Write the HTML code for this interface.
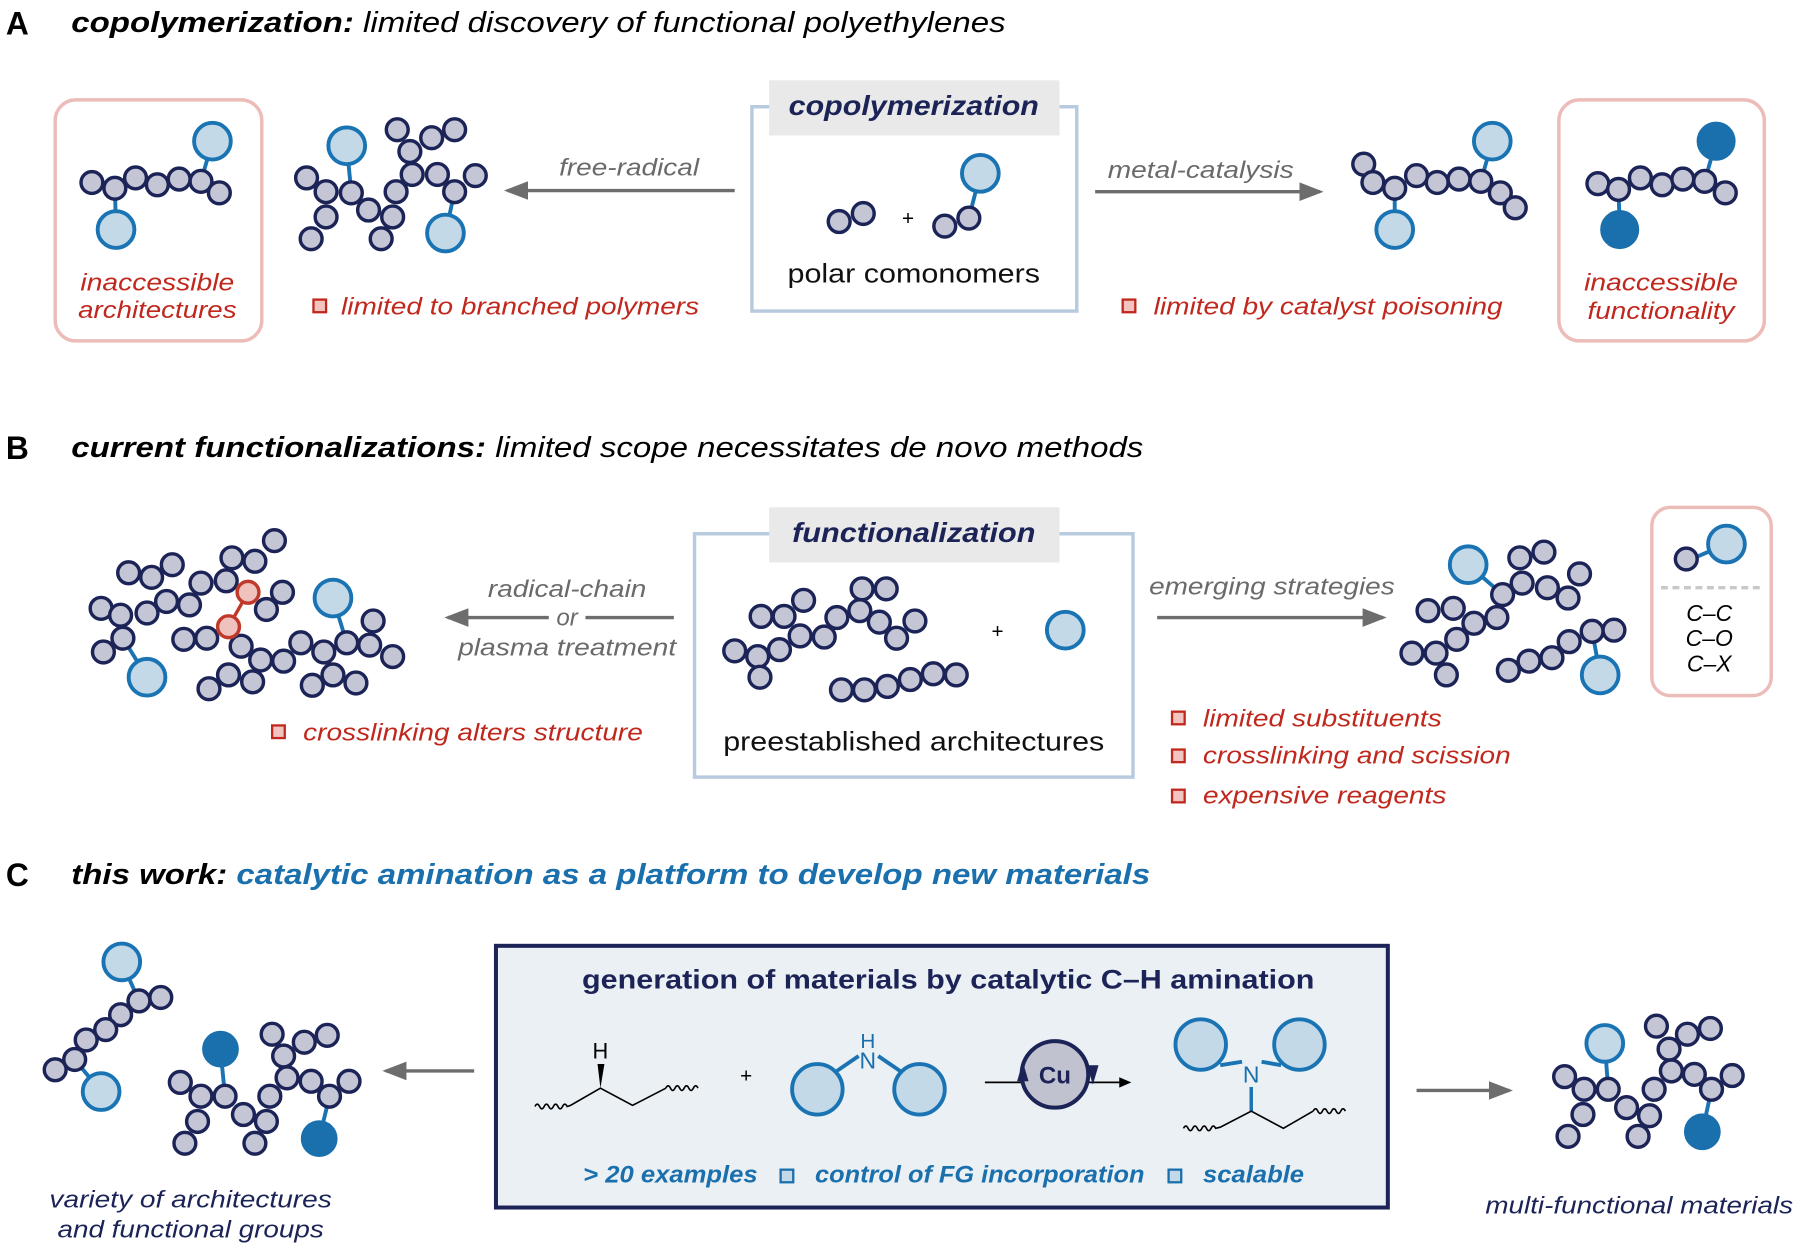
<!DOCTYPE html>
<html><head><meta charset="utf-8"><style>
html,body{margin:0;padding:0;background:#fff}
svg{display:block}
text{font-family:"Liberation Sans",sans-serif}
.n{fill:#c4c6d6;stroke:#1c2457;stroke-width:3}
.b{fill:#c3d9e8;stroke:#1a74b3;stroke-width:3.4}
.f{fill:#1a6fad;stroke:#1a6fad;stroke-width:2}
.r{fill:#f0c2bd;stroke:#c0392b;stroke-width:3}
.bl{stroke:#1a74b3;stroke-width:3.4}
.red{fill:#c0281e;font-style:italic}
.gr{fill:#6a6a6a;font-style:italic}
.nav{fill:#1c2457}
.sq{fill:#f2c4c0;stroke:#c0281e;stroke-width:2}
</style></head><body>
<svg width="1800" height="1250" viewBox="0 0 1568 1089" xmlns="http://www.w3.org/2000/svg">
<defs>
<marker id="ah" markerWidth="8" markerHeight="8" refX="6" refY="4" orient="auto" markerUnits="strokeWidth"><path d="M0,1.3 L7,4 L0,6.7 Z" fill="#6d6d6d"/></marker>
<marker id="ak" markerWidth="8" markerHeight="8" refX="6" refY="4" orient="auto" markerUnits="strokeWidth"><path d="M0,1 L7,4 L0,7 Z" fill="#000"/></marker>
</defs>

<!-- ===== A ===== -->
<text x="5" y="30" font-size="28" font-weight="bold" textLength="20" lengthAdjust="spacingAndGlyphs">A</text>
<text x="62" y="28" font-size="25" font-style="italic" textLength="814" lengthAdjust="spacingAndGlyphs"><tspan font-weight="bold">copolymerization:</tspan> limited discovery of functional polyethylenes</text>

<rect x="48" y="87" width="180" height="210" rx="18" fill="none" stroke="#ecbcb8" stroke-width="3"/>
<text class="red" x="137" y="253" font-size="21" text-anchor="middle" textLength="134" lengthAdjust="spacingAndGlyphs">inaccessible</text>
<text class="red" x="137" y="277" font-size="21" text-anchor="middle" textLength="138" lengthAdjust="spacingAndGlyphs">architectures</text>
<line class="bl" x1="175" y1="158" x2="185" y2="123"/><line class="bl" x1="100" y1="164" x2="101" y2="200"/>
<g class="n"><circle cx="80" cy="159" r="9.5"/><circle cx="100" cy="164" r="9.5"/><circle cx="118" cy="155" r="9.5"/><circle cx="137" cy="161" r="9.5"/><circle cx="156" cy="156" r="9.5"/><circle cx="175" cy="158" r="9.5"/><circle cx="191" cy="168" r="9.5"/></g>
<circle class="b" cx="185" cy="123" r="16"/><circle class="b" cx="101" cy="200" r="16"/>

<line class="bl" x1="306" y1="168" x2="302" y2="127"/><line class="bl" x1="396" y1="167" x2="388" y2="203"/>
<g class="n"><circle cx="267" cy="155" r="9.5"/><circle cx="284" cy="167" r="9.5"/><circle cx="306" cy="168" r="9.5"/><circle cx="321" cy="183" r="9.5"/><circle cx="342" cy="189" r="9.5"/><circle cx="345" cy="167" r="9.5"/><circle cx="359" cy="152" r="9.5"/><circle cx="381" cy="152" r="9.5"/><circle cx="396" cy="167" r="9.5"/><circle cx="414" cy="153" r="9.5"/><circle cx="357" cy="132" r="9.5"/><circle cx="376" cy="120" r="9.5"/><circle cx="396" cy="113" r="9.5"/><circle cx="346" cy="113" r="9.5"/><circle cx="284" cy="189" r="9.5"/><circle cx="271" cy="208" r="9.5"/><circle cx="332" cy="208" r="9.5"/></g>
<circle class="b" cx="302" cy="127" r="16"/><circle class="b" cx="388" cy="203" r="16"/>

<line x1="640" y1="166" x2="442" y2="166" stroke="#6d6d6d" stroke-width="3" marker-end="url(#ah)"/>
<text class="gr" x="548" y="153" font-size="21" text-anchor="middle" textLength="122" lengthAdjust="spacingAndGlyphs">free-radical</text>
<rect x="273" y="261" width="11" height="11" class="sq"/>
<text class="red" x="297" y="274" font-size="21" textLength="312" lengthAdjust="spacingAndGlyphs">limited to branched polymers</text>

<rect x="655" y="93" width="283" height="178" fill="none" stroke="#b7cade" stroke-width="3"/>
<rect x="670" y="70" width="253" height="48" fill="#e9e9e9"/>
<text class="nav" x="796" y="100" font-size="24" font-weight="bold" font-style="italic" text-anchor="middle" textLength="218" lengthAdjust="spacingAndGlyphs">copolymerization</text>
<g class="n"><circle cx="731" cy="193" r="9.5"/><circle cx="752" cy="186" r="9.5"/></g>
<text x="791" y="196" font-size="18" text-anchor="middle">+</text>
<line class="bl" x1="844" y1="190" x2="854" y2="151"/>
<g class="n"><circle cx="823" cy="197" r="9.5"/><circle cx="844" cy="190" r="9.5"/></g>
<circle class="b" cx="854" cy="151" r="16"/>
<text x="796" y="246" font-size="23" text-anchor="middle" fill="#111" textLength="220" lengthAdjust="spacingAndGlyphs">polar comonomers</text>

<line x1="954" y1="167" x2="1150" y2="167" stroke="#6d6d6d" stroke-width="3" marker-end="url(#ah)"/>
<text class="gr" x="1046" y="155" font-size="21" text-anchor="middle" textLength="162" lengthAdjust="spacingAndGlyphs">metal-catalysis</text>
<rect x="978" y="261" width="11" height="11" class="sq"/>
<text class="red" x="1005" y="274" font-size="21" textLength="304" lengthAdjust="spacingAndGlyphs">limited by catalyst poisoning</text>

<line class="bl" x1="1290" y1="158" x2="1300" y2="123"/><line class="bl" x1="1215" y1="164" x2="1215" y2="200"/>
<g class="n"><circle cx="1188" cy="143" r="9.5"/><circle cx="1196" cy="159" r="9.5"/><circle cx="1215" cy="164" r="9.5"/><circle cx="1234" cy="153" r="9.5"/><circle cx="1252" cy="159" r="9.5"/><circle cx="1271" cy="156" r="9.5"/><circle cx="1290" cy="158" r="9.5"/><circle cx="1307" cy="168" r="9.5"/><circle cx="1320" cy="181" r="9.5"/></g>
<circle class="b" cx="1300" cy="123" r="16"/><circle class="b" cx="1215" cy="200" r="16"/>

<rect x="1358" y="87" width="179" height="210" rx="18" fill="none" stroke="#ecbcb8" stroke-width="3"/>
<text class="red" x="1447" y="253" font-size="21" text-anchor="middle" textLength="134" lengthAdjust="spacingAndGlyphs">inaccessible</text>
<text class="red" x="1447" y="278" font-size="21" text-anchor="middle" textLength="128" lengthAdjust="spacingAndGlyphs">functionality</text>
<line class="bl" x1="1485" y1="158" x2="1495" y2="123"/><line class="bl" x1="1410" y1="165" x2="1411" y2="200"/>
<g class="n"><circle cx="1392" cy="160" r="9.5"/><circle cx="1410" cy="165" r="9.5"/><circle cx="1429" cy="155" r="9.5"/><circle cx="1448" cy="161" r="9.5"/><circle cx="1466" cy="156" r="9.5"/><circle cx="1485" cy="158" r="9.5"/><circle cx="1503" cy="168" r="9.5"/></g>
<circle class="f" cx="1495" cy="123" r="16"/><circle class="f" cx="1411" cy="200" r="16"/>

<!-- ===== B ===== -->
<text x="5" y="400" font-size="28" font-weight="bold" textLength="20" lengthAdjust="spacingAndGlyphs">B</text>
<text x="62" y="398" font-size="25" font-style="italic" textLength="934" lengthAdjust="spacingAndGlyphs"><tspan font-weight="bold">current functionalizations:</tspan> limited scope necessitates de novo methods</text>

<line class="bl" x1="107" y1="556" x2="128" y2="590"/><line class="bl" x1="302" y1="560" x2="290" y2="521"/>
<line x1="216" y1="516" x2="199" y2="546" stroke="#c0392b" stroke-width="3"/>
<g class="n">
<circle cx="88" cy="530" r="9.5"/><circle cx="105" cy="536" r="9.5"/><circle cx="128" cy="534" r="9.5"/><circle cx="145" cy="524" r="9.5"/><circle cx="165" cy="527" r="9.5"/><circle cx="112" cy="499" r="9.5"/><circle cx="132" cy="503" r="9.5"/><circle cx="150" cy="492" r="9.5"/><circle cx="107" cy="556" r="9.5"/><circle cx="90" cy="568" r="9.5"/><circle cx="175" cy="508" r="9.5"/><circle cx="197" cy="506" r="9.5"/><circle cx="202" cy="486" r="9.5"/><circle cx="222" cy="489" r="9.5"/><circle cx="239" cy="471" r="9.5"/><circle cx="160" cy="557" r="9.5"/><circle cx="180" cy="556" r="9.5"/><circle cx="210" cy="563" r="9.5"/><circle cx="227" cy="575" r="9.5"/><circle cx="247" cy="576" r="9.5"/><circle cx="262" cy="560" r="9.5"/><circle cx="282" cy="568" r="9.5"/><circle cx="302" cy="560" r="9.5"/><circle cx="322" cy="562" r="9.5"/><circle cx="325" cy="541" r="9.5"/><circle cx="342" cy="572" r="9.5"/><circle cx="182" cy="600" r="9.5"/><circle cx="199" cy="588" r="9.5"/><circle cx="220" cy="594" r="9.5"/><circle cx="272" cy="597" r="9.5"/><circle cx="290" cy="588" r="9.5"/><circle cx="310" cy="595" r="9.5"/><circle cx="232" cy="531" r="9.5"/><circle cx="246" cy="516" r="9.5"/></g>
<circle class="r" cx="216" cy="516" r="9.5"/><circle class="r" cx="199" cy="546" r="9.5"/>
<circle class="b" cx="128" cy="590" r="16"/><circle class="b" cx="290" cy="521" r="16"/>

<line x1="478" y1="538" x2="390" y2="538" stroke="#6d6d6d" stroke-width="3" marker-end="url(#ah)"/>
<line x1="510" y1="538" x2="587" y2="538" stroke="#6d6d6d" stroke-width="3"/>
<text class="gr" x="494" y="520" font-size="21" text-anchor="middle" textLength="138" lengthAdjust="spacingAndGlyphs">radical-chain</text>
<text class="gr" x="494" y="545" font-size="21" text-anchor="middle">or</text>
<text class="gr" x="494" y="571" font-size="21" text-anchor="middle" textLength="190" lengthAdjust="spacingAndGlyphs">plasma treatment</text>
<rect x="237" y="632" width="11" height="11" class="sq"/>
<text class="red" x="264" y="645" font-size="21" textLength="296" lengthAdjust="spacingAndGlyphs">crosslinking alters structure</text>

<rect x="605" y="465" width="382" height="212" fill="none" stroke="#b7cade" stroke-width="3"/>
<rect x="670" y="442" width="253" height="48" fill="#e9e9e9"/>
<text class="nav" x="796" y="472" font-size="24" font-weight="bold" font-style="italic" text-anchor="middle" textLength="212" lengthAdjust="spacingAndGlyphs">functionalization</text>
<g class="n">
<circle cx="640" cy="567" r="9.5"/><circle cx="660" cy="572" r="9.5"/><circle cx="662" cy="590" r="9.5"/><circle cx="679" cy="566" r="9.5"/><circle cx="697" cy="554" r="9.5"/><circle cx="718" cy="555" r="9.5"/><circle cx="729" cy="538" r="9.5"/><circle cx="749" cy="532" r="9.5"/><circle cx="751" cy="513" r="9.5"/><circle cx="772" cy="513" r="9.5"/><circle cx="766" cy="542" r="9.5"/><circle cx="781" cy="556" r="9.5"/><circle cx="797" cy="541" r="9.5"/><circle cx="663" cy="537" r="9.5"/><circle cx="683" cy="537" r="9.5"/><circle cx="700" cy="523" r="9.5"/>
<circle cx="733" cy="601" r="9.5"/><circle cx="753" cy="601" r="9.5"/><circle cx="773" cy="598" r="9.5"/><circle cx="793" cy="592" r="9.5"/><circle cx="813" cy="587" r="9.5"/><circle cx="833" cy="588" r="9.5"/></g>
<text x="869" y="556" font-size="18" text-anchor="middle">+</text>
<circle class="b" cx="928" cy="549" r="16"/>
<text x="796" y="654" font-size="23" text-anchor="middle" fill="#111" textLength="332" lengthAdjust="spacingAndGlyphs">preestablished architectures</text>

<line x1="1008" y1="538" x2="1205" y2="538" stroke="#6d6d6d" stroke-width="3" marker-end="url(#ah)"/>
<text class="gr" x="1108" y="518" font-size="21" text-anchor="middle" textLength="214" lengthAdjust="spacingAndGlyphs">emerging strategies</text>

<line class="bl" x1="1309" y1="518" x2="1279" y2="492"/><line class="bl" x1="1387" y1="550" x2="1394" y2="588"/>
<g class="n">
<circle cx="1309" cy="518" r="9.5"/><circle cx="1326" cy="508" r="9.5"/><circle cx="1324" cy="486" r="9.5"/><circle cx="1345" cy="481" r="9.5"/><circle cx="1348" cy="512" r="9.5"/><circle cx="1366" cy="521" r="9.5"/><circle cx="1376" cy="500" r="9.5"/><circle cx="1304" cy="538" r="9.5"/><circle cx="1284" cy="543" r="9.5"/><circle cx="1266" cy="530" r="9.5"/><circle cx="1244" cy="532" r="9.5"/><circle cx="1269" cy="557" r="9.5"/><circle cx="1251" cy="569" r="9.5"/><circle cx="1230" cy="569" r="9.5"/><circle cx="1260" cy="588" r="9.5"/><circle cx="1314" cy="584" r="9.5"/><circle cx="1332" cy="576" r="9.5"/><circle cx="1352" cy="573" r="9.5"/><circle cx="1367" cy="559" r="9.5"/><circle cx="1387" cy="550" r="9.5"/><circle cx="1406" cy="549" r="9.5"/></g>
<circle class="b" cx="1279" cy="492" r="16"/><circle class="b" cx="1394" cy="588" r="16"/>

<rect x="1439" y="442" width="104" height="164" rx="16" fill="none" stroke="#ecbcb8" stroke-width="3"/>
<line class="bl" x1="1469" y1="489" x2="1504" y2="474"/>
<circle class="n" cx="1469" cy="487" r="9.5"/><circle class="b" cx="1504" cy="474" r="16"/>
<line x1="1447" y1="512" x2="1536" y2="512" stroke="#c8c8c8" stroke-width="3" stroke-dasharray="6,4"/>
<text x="1489" y="541" font-size="20" font-style="italic" text-anchor="middle">C–C</text>
<text x="1489" y="563" font-size="20" font-style="italic" text-anchor="middle">C–O</text>
<text x="1489" y="585" font-size="20" font-style="italic" text-anchor="middle">C–X</text>

<rect x="1021" y="620" width="11" height="11" class="sq"/>
<text class="red" x="1048" y="633" font-size="21" textLength="208" lengthAdjust="spacingAndGlyphs">limited substituents</text>
<rect x="1021" y="653" width="11" height="11" class="sq"/>
<text class="red" x="1048" y="665" font-size="21" textLength="268" lengthAdjust="spacingAndGlyphs">crosslinking and scission</text>
<rect x="1021" y="688" width="11" height="11" class="sq"/>
<text class="red" x="1048" y="700" font-size="21" textLength="212" lengthAdjust="spacingAndGlyphs">expensive reagents</text>

<!-- ===== C ===== -->
<text x="5" y="772" font-size="28" font-weight="bold" textLength="20" lengthAdjust="spacingAndGlyphs">C</text>
<text x="62" y="770" font-size="25" font-style="italic" font-weight="bold" textLength="940" lengthAdjust="spacingAndGlyphs">this work: <tspan fill="#1a6fad">catalytic amination as a platform to develop new materials</tspan></text>

<line class="bl" x1="121" y1="872" x2="106" y2="838"/><line class="bl" x1="65" y1="923" x2="88" y2="951"/>
<g class="n"><circle cx="121" cy="872" r="9.5"/><circle cx="140" cy="869" r="9.5"/><circle cx="105" cy="884" r="9.5"/><circle cx="92" cy="897" r="9.5"/><circle cx="75" cy="906" r="9.5"/><circle cx="65" cy="923" r="9.5"/><circle cx="48" cy="932" r="9.5"/></g>
<circle class="b" cx="106" cy="838" r="16"/><circle class="b" cx="88" cy="951" r="16"/>
<line class="bl" x1="196" y1="955" x2="192" y2="915"/><line class="bl" x1="287" y1="955" x2="278" y2="992"/>
<g class="n"><circle cx="157" cy="943" r="9.5"/><circle cx="175" cy="955" r="9.5"/><circle cx="196" cy="955" r="9.5"/><circle cx="172" cy="977" r="9.5"/><circle cx="161" cy="996" r="9.5"/><circle cx="212" cy="971" r="9.5"/><circle cx="232" cy="977" r="9.5"/><circle cx="222" cy="996" r="9.5"/><circle cx="235" cy="955" r="9.5"/><circle cx="250" cy="939" r="9.5"/><circle cx="247" cy="920" r="9.5"/><circle cx="237" cy="901" r="9.5"/><circle cx="265" cy="908" r="9.5"/><circle cx="285" cy="902" r="9.5"/><circle cx="271" cy="942" r="9.5"/><circle cx="287" cy="955" r="9.5"/><circle cx="304" cy="942" r="9.5"/></g>
<circle class="f" cx="192" cy="914" r="15"/><circle class="f" cx="278" cy="992" r="15"/>
<text class="nav" x="166" y="1052" font-size="21" font-style="italic" text-anchor="middle" textLength="246" lengthAdjust="spacingAndGlyphs">variety of architectures</text>
<text class="nav" x="166" y="1078" font-size="21" font-style="italic" text-anchor="middle" textLength="232" lengthAdjust="spacingAndGlyphs">and functional groups</text>

<line x1="413" y1="933" x2="336" y2="933" stroke="#6d6d6d" stroke-width="3" marker-end="url(#ah)"/>

<rect x="432" y="824" width="777" height="228" fill="#ebf0f5" stroke="#1c2457" stroke-width="3.5"/>
<text class="nav" x="826" y="861" font-size="23" font-weight="bold" text-anchor="middle" textLength="638" lengthAdjust="spacingAndGlyphs">generation of materials by catalytic C–H amination</text>
<g fill="none" stroke="#000" stroke-width="1.4">
<path d="M466,964 q2,-4 4,0 q2,4 4,0 q2,-4 4,0 q2,4 4,0 q2,-4 4,0 q2,4 4,0 q2,-4 4,0 L497,963 L523,948 L551,963 L580,948"/>
<path d="M580,948 q2,-4 4,0 q2,4 4,0 q2,-4 4,0 q2,4 4,0 q2,-4 4,0 q2,4 4,0 q2,-4 4,0"/>
</g>
<path d="M523,948 L520.5,927 L526.5,927 Z" fill="#000"/>
<text x="523" y="922" font-size="19" text-anchor="middle">H</text>
<text x="650" y="943" font-size="18" text-anchor="middle">+</text>
<line class="bl" x1="729" y1="933" x2="748" y2="920"/><line class="bl" x1="765" y1="920" x2="784" y2="933"/>
<circle class="b" cx="712" cy="949" r="22"/><circle class="b" cx="801" cy="949" r="22"/>
<text x="756" y="913" font-size="18" text-anchor="middle" fill="#1a6fad">H</text>
<text x="756" y="931" font-size="20" text-anchor="middle" fill="#1a6fad">N</text>
<line x1="858" y1="943" x2="984" y2="943" stroke="#000" stroke-width="1.5" marker-end="url(#ak)"/>
<circle cx="919" cy="936" r="29" fill="#c0c2cf" stroke="#1c2457" stroke-width="3.5"/>
<path d="M886,942 L891,925 L896,942 Z" fill="#1c2457"/><path d="M947,928 L952,945 L957,928 Z" fill="#1c2457"/>
<text class="nav" x="919" y="944" font-size="21" font-weight="bold" text-anchor="middle">Cu</text>
<line class="bl" x1="1063" y1="928" x2="1082" y2="925"/><line class="bl" x1="1116" y1="928" x2="1099" y2="925"/>
<circle class="b" cx="1046" cy="910" r="22"/><circle class="b" cx="1132" cy="910" r="22"/>
<text x="1090" y="943" font-size="20" text-anchor="middle" fill="#1a6fad">N</text>
<line x1="1090" y1="947" x2="1090" y2="968" stroke="#1a74b3" stroke-width="3"/>
<g fill="none" stroke="#000" stroke-width="1.4">
<path d="M1031,983 q2,-4 4,0 q2,4 4,0 q2,-4 4,0 q2,4 4,0 q2,-4 4,0 q2,4 4,0 q2,-4 4,0 L1063,982 L1090,968 L1118,983 L1144,968"/>
<path d="M1144,968 q2,-4 4,0 q2,4 4,0 q2,-4 4,0 q2,4 4,0 q2,-4 4,0 q2,4 4,0 q2,-4 4,0"/>
</g>
<g fill="#1a6fad" font-weight="bold" font-style="italic" font-size="21">
<text x="508" y="1030" textLength="152" lengthAdjust="spacingAndGlyphs">&gt; 20 examples</text>
<text x="710" y="1030" textLength="287" lengthAdjust="spacingAndGlyphs">control of FG incorporation</text>
<text x="1048" y="1030" textLength="88" lengthAdjust="spacingAndGlyphs">scalable</text>
</g>
<rect x="680" y="1019" width="11" height="11" fill="#c3d9e8" stroke="#1a6fad" stroke-width="2"/>
<rect x="1018" y="1019" width="11" height="11" fill="#c3d9e8" stroke="#1a6fad" stroke-width="2"/>

<line x1="1234" y1="950" x2="1315" y2="950" stroke="#6d6d6d" stroke-width="3" marker-end="url(#ah)"/>

<line class="bl" x1="1401" y1="949" x2="1398" y2="909"/><line class="bl" x1="1491" y1="949" x2="1483" y2="986"/>
<g class="n"><circle cx="1363" cy="938" r="9.5"/><circle cx="1380" cy="949" r="9.5"/><circle cx="1401" cy="949" r="9.5"/><circle cx="1379" cy="971" r="9.5"/><circle cx="1366" cy="990" r="9.5"/><circle cx="1417" cy="965" r="9.5"/><circle cx="1437" cy="972" r="9.5"/><circle cx="1427" cy="990" r="9.5"/><circle cx="1441" cy="949" r="9.5"/><circle cx="1456" cy="933" r="9.5"/><circle cx="1454" cy="914" r="9.5"/><circle cx="1443" cy="894" r="9.5"/><circle cx="1470" cy="901" r="9.5"/><circle cx="1490" cy="896" r="9.5"/><circle cx="1476" cy="936" r="9.5"/><circle cx="1491" cy="949" r="9.5"/><circle cx="1509" cy="937" r="9.5"/></g>
<circle class="b" cx="1398" cy="909" r="16"/><circle class="f" cx="1483" cy="986" r="15"/>
<text class="nav" x="1428" y="1057" font-size="21" font-style="italic" text-anchor="middle" textLength="268" lengthAdjust="spacingAndGlyphs">multi-functional materials</text>
</svg>
</body></html>
